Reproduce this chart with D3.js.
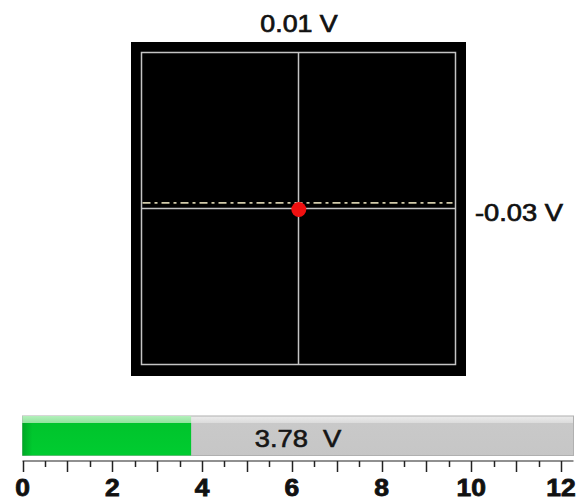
<!DOCTYPE html>
<html>
<head>
<meta charset="utf-8">
<script src="https://cdn.jsdelivr.net/npm/d3@7"></script>
<style>
  html, body { margin: 0; padding: 0; background: #fff; }
  svg { display: block; }
  text { font-family: "Liberation Sans", Arial, sans-serif; }
</style>
</head>
<body>
<svg id="chart" width="578" height="500"></svg>
<script>
// ---- data ----
const xyDomain = [-5, 5];          // volts, both axes of the XY scope
const pointX = [0.01];             // volts (top label)
const pointY = [-0.03];            // volts (right label)
const refLevel = [0.18];           // dash-dot reference line, volts
const barValue = [3.78];           // volts
const barDomain = [0, 12];
const barTickLabels = [0, 2, 4, 6, 8, 10, 12];
const barMinorStep = 0.5;

const svg = d3.select("#chart");

// ---- XY scope ----
const frame = { x: 131, y: 42, w: 335, h: 334 };
svg.append("rect")
  .attr("x", frame.x).attr("y", frame.y)
  .attr("width", frame.w).attr("height", frame.h)
  .attr("fill", "#000");

const sx = d3.scaleLinear().domain(xyDomain).range([141.5, 455.5]);
const sy = d3.scaleLinear().domain(xyDomain).range([364.5, 52.5]);

svg.append("rect")
  .attr("x", sx(xyDomain[0])).attr("y", sy(xyDomain[1]))
  .attr("width", sx(xyDomain[1]) - sx(xyDomain[0]))
  .attr("height", sy(xyDomain[0]) - sy(xyDomain[1]))
  .attr("fill", "none").attr("stroke", "#c4c4c4").attr("stroke-width", 1.5);

svg.append("line")
  .attr("x1", sx(0)).attr("x2", sx(0))
  .attr("y1", sy(xyDomain[1])).attr("y2", sy(xyDomain[0]))
  .attr("stroke", "#c4c4c4").attr("stroke-width", 1.5);
svg.append("line")
  .attr("x1", sx(xyDomain[0])).attr("x2", sx(xyDomain[1]))
  .attr("y1", sy(0)).attr("y2", sy(0))
  .attr("stroke", "#c4c4c4").attr("stroke-width", 1.5);

svg.selectAll("line.ref").data(refLevel).enter().append("line")
  .attr("class", "ref")
  .attr("x1", sx(xyDomain[0]) + 1).attr("x2", sx(xyDomain[1]) - 3)
  .attr("y1", d => sy(d)).attr("y2", d => sy(d))
  .attr("stroke", "#d2cbaa").attr("stroke-width", 1.6)
  .attr("stroke-dasharray", "8,4,3,4");

svg.selectAll("circle.pt").data(pointX.map((x, i) => [x, pointY[i]])).enter()
  .append("circle").attr("class", "pt")
  .attr("cx", d => sx(d[0])).attr("cy", d => sy(d[1]))
  .attr("r", 7.5).attr("fill", "#f01010");

svg.append("text")
  .attr("transform", `translate(${(sx(xyDomain[0]) + sx(xyDomain[1])) / 2 + 0.5},32) scale(1.14,1)`)
  .attr("text-anchor", "middle")
  .attr("font-size", 23.5)
  .attr("fill", "#111").attr("stroke", "#111").attr("stroke-width", 0.7)
  .text(pointX[0].toFixed(2) + " V");

svg.append("text")
  .attr("transform", "translate(475,220.5) scale(1.16,1)")
  .attr("font-size", 23.5)
  .attr("fill", "#111").attr("stroke", "#111").attr("stroke-width", 0.7)
  .text(pointY[0].toFixed(2) + " V");

// ---- bar gauge ----
const bx = d3.scaleLinear().domain(barDomain).range([22.5, 561]);
const barTop = 416, barBot = 455.5;
const barEnd = bx.range()[1] + 12.5;

const defs = svg.append("defs");
const gGreen = defs.append("linearGradient").attr("id", "gGreen")
  .attr("x1", 0).attr("y1", 0).attr("x2", 0).attr("y2", 1);
gGreen.append("stop").attr("offset", "0%").attr("stop-color", "#b4f0bc");
gGreen.append("stop").attr("offset", "17%").attr("stop-color", "#92e49e");
gGreen.append("stop").attr("offset", "18%").attr("stop-color", "#00c42c");
gGreen.append("stop").attr("offset", "100%").attr("stop-color", "#00cc30");
const gGray = defs.append("linearGradient").attr("id", "gGray")
  .attr("x1", 0).attr("y1", 0).attr("x2", 0).attr("y2", 1);
gGray.append("stop").attr("offset", "0%").attr("stop-color", "#ececec");
gGray.append("stop").attr("offset", "17%").attr("stop-color", "#dcdcdc");
gGray.append("stop").attr("offset", "18%").attr("stop-color", "#c9c9c9");
gGray.append("stop").attr("offset", "100%").attr("stop-color", "#c6c6c6");
const gEdge = defs.append("linearGradient").attr("id", "gEdge")
  .attr("x1", 0).attr("y1", 0).attr("x2", 1).attr("y2", 0);
gEdge.append("stop").attr("offset", "0%").attr("stop-color", "#009a22").attr("stop-opacity", 0.7);
gEdge.append("stop").attr("offset", "100%").attr("stop-color", "#009a22").attr("stop-opacity", 0);

svg.append("rect")
  .attr("x", bx(barDomain[0])).attr("y", barTop)
  .attr("width", barEnd - bx(barDomain[0])).attr("height", barBot - barTop)
  .attr("fill", "url(#gGray)").attr("stroke", "#b0b0b0").attr("stroke-width", 1);

svg.selectAll("rect.val").data(barValue).enter().append("rect")
  .attr("class", "val")
  .attr("x", bx(barDomain[0])).attr("y", barTop)
  .attr("width", d => bx(d) - bx(barDomain[0]) - 1).attr("height", barBot - barTop)
  .attr("fill", "url(#gGreen)");
svg.append("rect")
  .attr("x", bx(barDomain[0])).attr("y", barTop + 7)
  .attr("width", 10).attr("height", barBot - barTop - 7)
  .attr("fill", "url(#gEdge)");

svg.append("text")
  .attr("transform", `translate(${(bx(barDomain[0]) + barEnd) / 2},446.5) scale(1.14,1)`)
  .attr("text-anchor", "middle")
  .attr("font-size", 24)
  .attr("fill", "#151515").attr("stroke", "#151515").attr("stroke-width", 0.6)
  .style("white-space", "pre")
  .text(barValue[0].toFixed(2) + "  V");

// axis
const axisY = 461;
svg.append("line")
  .attr("x1", bx(barDomain[0])).attr("x2", barEnd)
  .attr("y1", axisY).attr("y2", axisY)
  .attr("stroke", "#222").attr("stroke-width", 1.2);

const minorTicks = d3.range(barDomain[0], barDomain[1] + 1e-9, barMinorStep);
svg.selectAll("line.tick").data(minorTicks).enter().append("line")
  .attr("class", "tick")
  .attr("x1", d => Math.round(bx(d)) + 0.5).attr("x2", d => Math.round(bx(d)) + 0.5)
  .attr("y1", axisY)
  .attr("y2", d => Number.isInteger(d) ? axisY + 11 : axisY + 6)
  .attr("stroke", "#222").attr("stroke-width", 1.5);

svg.selectAll("text.tl").data(barTickLabels).enter().append("text")
  .attr("class", "tl")
  .attr("transform", d => `translate(${bx(d)},495.5) scale(1.15,1)`)
  .attr("text-anchor", "middle")
  .attr("font-size", 23).attr("font-weight", "bold")
  .attr("fill", "#111").attr("stroke", "#111").attr("stroke-width", 0.8)
  .text(d => d);
</script>
</body>
</html>
